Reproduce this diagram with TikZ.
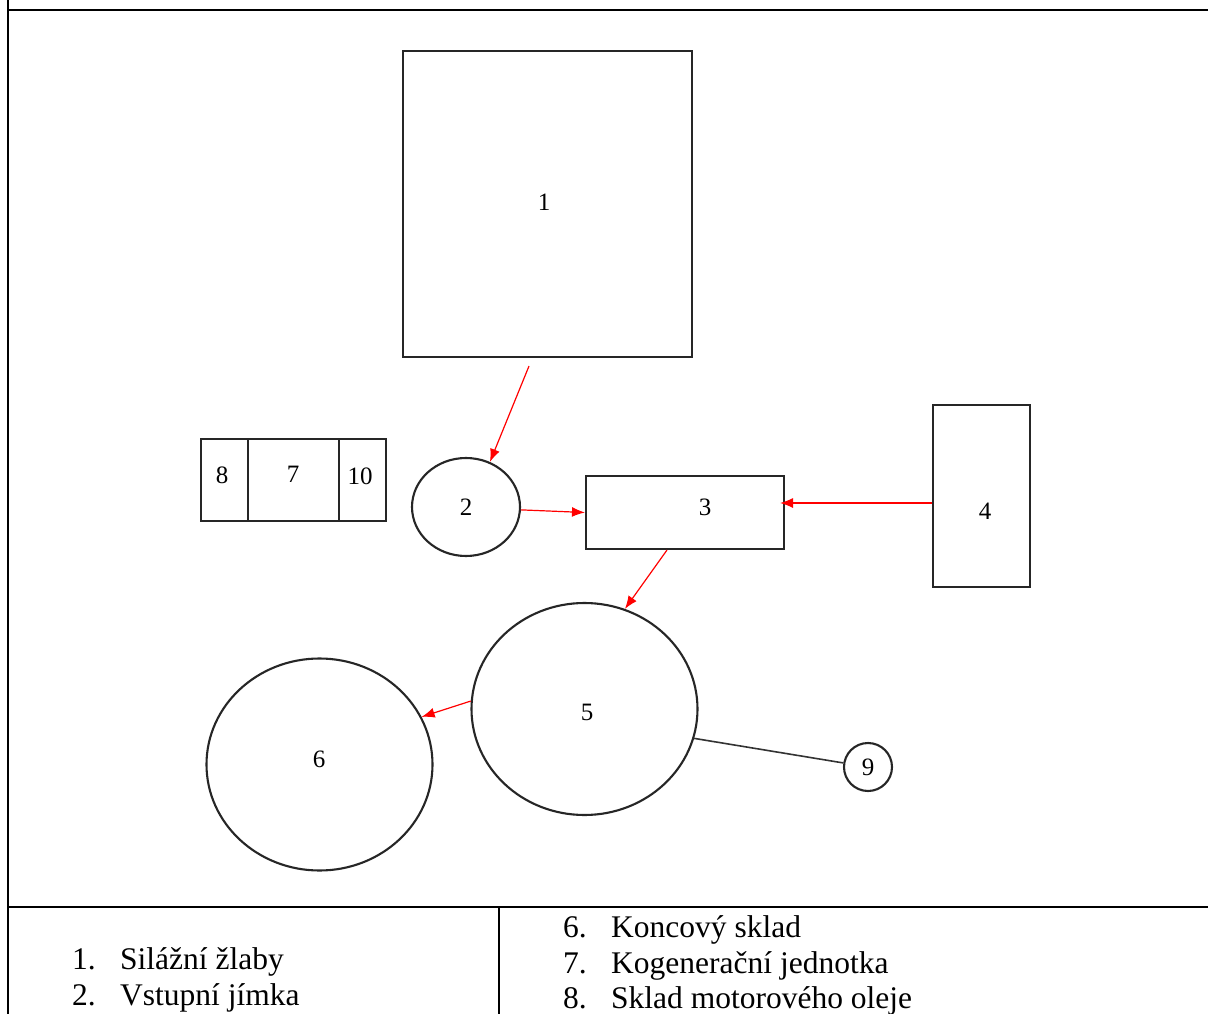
\documentclass[tikz,border=0pt]{standalone}
\usepackage{fontspec}
\setmainfont{Liberation Serif}
\usetikzlibrary{arrows.meta,shapes.geometric}
\begin{document}
\begin{tikzpicture}[x=1pt,y=-1pt,
  box/.style={draw=black!85,line width=2.1pt,rectangle,inner sep=0pt,font=\fontsize{25}{27}\selectfont},
  ring/.style={draw=black!85,line width=2.1pt,ellipse,inner sep=0pt,font=\fontsize{25}{27}\selectfont},
  lbl/.style={font=\fontsize{25}{27}\selectfont,inner sep=0pt},
  arr/.style={draw=red,line width=1.2pt,-{Latex[length=13pt,width=10pt]}},
  plain/.style={draw=black!80,line width=1.6pt},
  rule/.style={draw=black,line width=2.8pt},
  leg/.style={anchor=base west,inner sep=0pt,font=\fontsize{31.5}{36}\selectfont}]
\path[fill=white] (0,0) rectangle (1208,1014);
\useasboundingbox (0,0) rectangle (1208,1014);
% table rules
\draw[rule] (8,0) -- (8,1014);
\draw[rule] (8,10) -- (1208,10);
\draw[rule] (8,907) -- (1208,907);
\draw[rule] (499,907) -- (499,1014);
% shapes
\node[box,minimum width=289pt,minimum height=306pt] (b1) at (547.5,204) {};
\node[lbl] (l1) at (544,202) {1};
\node[ring,minimum width=108pt,minimum height=98pt] (c2) at (466,507) {2};
\node[box,minimum width=198pt,minimum height=73pt] (b3) at (685,512.5) {};
\node[lbl] (l3) at (705,507) {3};
\node[box,minimum width=97pt,minimum height=182pt] (b4) at (981.5,496) {};
\node[lbl] (l4) at (985,511) {4};
\node[ring,minimum width=226pt,minimum height=212pt] (c5) at (584.5,709) {};
\node[lbl] (l5) at (587,712) {5};
\node[ring,minimum width=226pt,minimum height=212pt] (c6) at (319.5,764.5) {};
\node[lbl] (l6) at (319,759) {6};
\node[ring,minimum width=48pt,minimum height=48pt] (c9) at (868,767) {9};
\node[box,minimum width=47pt,minimum height=82pt] (b8) at (224.5,480) {};
\node[box,minimum width=91pt,minimum height=82pt] (b7) at (293.5,480) {};
\node[box,minimum width=47pt,minimum height=82pt] (b10) at (362.5,480) {};
\node[lbl] (l8) at (222,475) {8};
\node[lbl] (l7) at (293,474) {7};
\node[lbl] (l10) at (360,476) {10};
% connectors
\draw[arr] ([xshift=-18.5pt,yshift=-8pt]b1.south) -- (c2.62);
\draw[arr] (c2.-3) -- (b3.west);
\draw[arr] ([yshift=-7pt]b4.west) -- ([xshift=-5pt,yshift=9.5pt]b3.east);
\draw[arr] ([xshift=-18pt]b3.south) -- (c5.68);
\draw[arr] (c5.176) -- (c6.25);
\draw[plain] (c5.-15) -- (c9);
% legend
\node[leg] (n1) at (72,969) {1.};
\node[leg] (t1) at (120,969) {Silážní žlaby};
\node[leg] (n2) at (72,1005) {2.};
\node[leg] (t2) at (120,1005) {Vstupní jímka};
\node[leg] (n6) at (563,937) {6.};
\node[leg] (t6) at (611,937) {Koncový sklad};
\node[leg] (n7) at (563,973) {7.};
\node[leg] (t7) at (611,973) {Kogenerační jednotka};
\node[leg] (n8) at (563,1008) {8.};
\node[leg] (t8) at (611,1008) {Sklad motorového oleje};
\end{tikzpicture}
\end{document}
